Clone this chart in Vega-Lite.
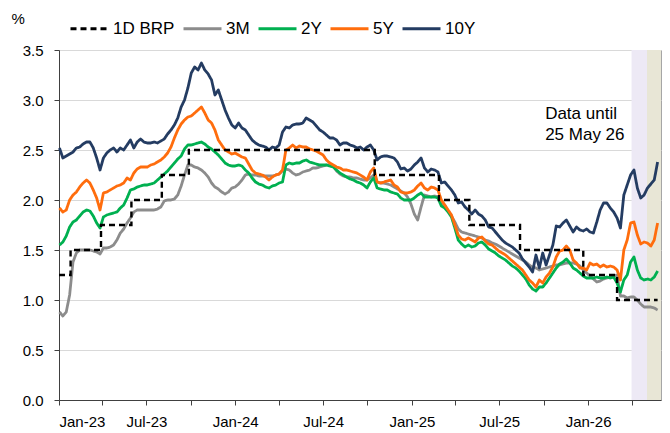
{
  "$schema": "https://vega.github.io/schema/vega-lite/v6.json",
  "width": 602,
  "height": 350,
  "autosize": {"type": "none"},
  "padding": {"left": 59, "top": 50, "right": 9, "bottom": 33},
  "background": "white",
  "config": {
    "font": "Liberation Sans",
    "view": {"stroke": "#A6A6A6", "strokeWidth": 1},
    "axis": {"labelFont": "Liberation Sans", "labelColor": "#000000", "labelFontSize": 15, "domainColor": "#404040", "tickColor": "#404040", "titleFont": "Liberation Sans"},
    "legend": {
      "orient": "none", "legendX": 10, "legendY": -42, "direction": "horizontal",
      "symbolType": "stroke", "symbolSize": 1444, "symbolStrokeWidth": 3,
      "labelFont": "Liberation Sans", "labelFontSize": 17, "labelColor": "#000000", "labelOffset": 3,
      "columnPadding": 2, "title": null
    }
  },
  "datasets": {
    "w": [
      {"d":"2023-01-02","3M":0.88,"2Y":1.55,"5Y":1.92,"10Y":2.52},
      {"d":"2023-01-09","3M":0.84,"2Y":1.58,"5Y":1.88,"10Y":2.42},
      {"d":"2023-01-16","3M":0.88,"2Y":1.64,"5Y":1.90,"10Y":2.44},
      {"d":"2023-01-23","3M":1.05,"2Y":1.73,"5Y":2.00,"10Y":2.46},
      {"d":"2023-01-30","3M":1.38,"2Y":1.78,"5Y":2.05,"10Y":2.48},
      {"d":"2023-02-06","3M":1.47,"2Y":1.80,"5Y":2.08,"10Y":2.52},
      {"d":"2023-02-13","3M":1.50,"2Y":1.84,"5Y":2.13,"10Y":2.53},
      {"d":"2023-02-20","3M":1.50,"2Y":1.88,"5Y":2.17,"10Y":2.56},
      {"d":"2023-02-27","3M":1.50,"2Y":1.90,"5Y":2.20,"10Y":2.58},
      {"d":"2023-03-06","3M":1.50,"2Y":1.89,"5Y":2.17,"10Y":2.58},
      {"d":"2023-03-13","3M":1.49,"2Y":1.84,"5Y":2.10,"10Y":2.52},
      {"d":"2023-03-20","3M":1.48,"2Y":1.77,"5Y":2.02,"10Y":2.42},
      {"d":"2023-03-27","3M":1.46,"2Y":1.72,"5Y":1.90,"10Y":2.30},
      {"d":"2023-04-03","3M":1.52,"2Y":1.83,"5Y":2.07,"10Y":2.42},
      {"d":"2023-04-10","3M":1.52,"2Y":1.85,"5Y":2.08,"10Y":2.47},
      {"d":"2023-04-17","3M":1.53,"2Y":1.86,"5Y":2.10,"10Y":2.50},
      {"d":"2023-04-24","3M":1.55,"2Y":1.87,"5Y":2.12,"10Y":2.52},
      {"d":"2023-05-01","3M":1.60,"2Y":1.88,"5Y":2.14,"10Y":2.48},
      {"d":"2023-05-08","3M":1.67,"2Y":1.92,"5Y":2.15,"10Y":2.52},
      {"d":"2023-05-15","3M":1.71,"2Y":1.95,"5Y":2.17,"10Y":2.50},
      {"d":"2023-05-22","3M":1.77,"2Y":2.02,"5Y":2.22,"10Y":2.55},
      {"d":"2023-05-29","3M":1.82,"2Y":2.10,"5Y":2.20,"10Y":2.60},
      {"d":"2023-06-05","3M":1.88,"2Y":2.11,"5Y":2.27,"10Y":2.52},
      {"d":"2023-06-12","3M":1.90,"2Y":2.13,"5Y":2.31,"10Y":2.58},
      {"d":"2023-06-19","3M":1.90,"2Y":2.14,"5Y":2.33,"10Y":2.61},
      {"d":"2023-06-26","3M":1.90,"2Y":2.15,"5Y":2.33,"10Y":2.58},
      {"d":"2023-07-03","3M":1.90,"2Y":2.15,"5Y":2.33,"10Y":2.57},
      {"d":"2023-07-10","3M":1.90,"2Y":2.16,"5Y":2.35,"10Y":2.57},
      {"d":"2023-07-17","3M":1.90,"2Y":2.17,"5Y":2.36,"10Y":2.58},
      {"d":"2023-07-24","3M":1.91,"2Y":2.20,"5Y":2.38,"10Y":2.57},
      {"d":"2023-07-31","3M":1.93,"2Y":2.23,"5Y":2.40,"10Y":2.59},
      {"d":"2023-08-07","3M":1.99,"2Y":2.26,"5Y":2.43,"10Y":2.61},
      {"d":"2023-08-14","3M":2.00,"2Y":2.29,"5Y":2.47,"10Y":2.66},
      {"d":"2023-08-21","3M":2.00,"2Y":2.33,"5Y":2.53,"10Y":2.70},
      {"d":"2023-08-28","3M":2.01,"2Y":2.37,"5Y":2.62,"10Y":2.75},
      {"d":"2023-09-04","3M":2.05,"2Y":2.41,"5Y":2.70,"10Y":2.82},
      {"d":"2023-09-11","3M":2.14,"2Y":2.44,"5Y":2.76,"10Y":2.93},
      {"d":"2023-09-18","3M":2.25,"2Y":2.51,"5Y":2.80,"10Y":3.00},
      {"d":"2023-09-25","3M":2.35,"2Y":2.55,"5Y":2.83,"10Y":3.12},
      {"d":"2023-10-02","3M":2.35,"2Y":2.55,"5Y":2.84,"10Y":3.27},
      {"d":"2023-10-09","3M":2.33,"2Y":2.56,"5Y":2.87,"10Y":3.33},
      {"d":"2023-10-16","3M":2.32,"2Y":2.57,"5Y":2.90,"10Y":3.30},
      {"d":"2023-10-23","3M":2.30,"2Y":2.58,"5Y":2.93,"10Y":3.37},
      {"d":"2023-10-30","3M":2.27,"2Y":2.56,"5Y":2.87,"10Y":3.30},
      {"d":"2023-11-06","3M":2.23,"2Y":2.53,"5Y":2.80,"10Y":3.26},
      {"d":"2023-11-13","3M":2.17,"2Y":2.51,"5Y":2.77,"10Y":3.20},
      {"d":"2023-11-20","3M":2.13,"2Y":2.48,"5Y":2.70,"10Y":3.05},
      {"d":"2023-11-27","3M":2.11,"2Y":2.45,"5Y":2.60,"10Y":3.10},
      {"d":"2023-12-04","3M":2.08,"2Y":2.41,"5Y":2.55,"10Y":3.00},
      {"d":"2023-12-11","3M":2.06,"2Y":2.37,"5Y":2.50,"10Y":2.90},
      {"d":"2023-12-18","3M":2.08,"2Y":2.35,"5Y":2.48,"10Y":2.82},
      {"d":"2023-12-25","3M":2.12,"2Y":2.34,"5Y":2.46,"10Y":2.75},
      {"d":"2024-01-01","3M":2.13,"2Y":2.34,"5Y":2.47,"10Y":2.72},
      {"d":"2024-01-08","3M":2.16,"2Y":2.35,"5Y":2.45,"10Y":2.77},
      {"d":"2024-01-15","3M":2.20,"2Y":2.34,"5Y":2.43,"10Y":2.72},
      {"d":"2024-01-22","3M":2.25,"2Y":2.30,"5Y":2.42,"10Y":2.70},
      {"d":"2024-01-29","3M":2.26,"2Y":2.27,"5Y":2.36,"10Y":2.65},
      {"d":"2024-02-05","3M":2.25,"2Y":2.22,"5Y":2.30,"10Y":2.60},
      {"d":"2024-02-12","3M":2.25,"2Y":2.18,"5Y":2.27,"10Y":2.57},
      {"d":"2024-02-19","3M":2.24,"2Y":2.16,"5Y":2.26,"10Y":2.55},
      {"d":"2024-02-26","3M":2.24,"2Y":2.15,"5Y":2.25,"10Y":2.54},
      {"d":"2024-03-04","3M":2.24,"2Y":2.13,"5Y":2.23,"10Y":2.53},
      {"d":"2024-03-11","3M":2.24,"2Y":2.12,"5Y":2.20,"10Y":2.50},
      {"d":"2024-03-18","3M":2.24,"2Y":2.14,"5Y":2.23,"10Y":2.53},
      {"d":"2024-03-25","3M":2.25,"2Y":2.15,"5Y":2.25,"10Y":2.52},
      {"d":"2024-04-01","3M":2.26,"2Y":2.17,"5Y":2.26,"10Y":2.55},
      {"d":"2024-04-08","3M":2.29,"2Y":2.18,"5Y":2.30,"10Y":2.68},
      {"d":"2024-04-15","3M":2.31,"2Y":2.35,"5Y":2.50,"10Y":2.73},
      {"d":"2024-04-22","3M":2.30,"2Y":2.37,"5Y":2.52,"10Y":2.72},
      {"d":"2024-04-29","3M":2.27,"2Y":2.36,"5Y":2.55,"10Y":2.75},
      {"d":"2024-05-06","3M":2.25,"2Y":2.37,"5Y":2.52,"10Y":2.76},
      {"d":"2024-05-13","3M":2.26,"2Y":2.37,"5Y":2.54,"10Y":2.76},
      {"d":"2024-05-20","3M":2.28,"2Y":2.39,"5Y":2.53,"10Y":2.77},
      {"d":"2024-05-27","3M":2.29,"2Y":2.40,"5Y":2.53,"10Y":2.82},
      {"d":"2024-06-03","3M":2.30,"2Y":2.38,"5Y":2.51,"10Y":2.80},
      {"d":"2024-06-10","3M":2.32,"2Y":2.37,"5Y":2.50,"10Y":2.78},
      {"d":"2024-06-17","3M":2.32,"2Y":2.36,"5Y":2.49,"10Y":2.74},
      {"d":"2024-06-24","3M":2.33,"2Y":2.35,"5Y":2.47,"10Y":2.70},
      {"d":"2024-07-01","3M":2.34,"2Y":2.35,"5Y":2.45,"10Y":2.68},
      {"d":"2024-07-08","3M":2.35,"2Y":2.35,"5Y":2.40,"10Y":2.65},
      {"d":"2024-07-15","3M":2.35,"2Y":2.34,"5Y":2.37,"10Y":2.62},
      {"d":"2024-07-22","3M":2.34,"2Y":2.33,"5Y":2.35,"10Y":2.62},
      {"d":"2024-07-29","3M":2.29,"2Y":2.30,"5Y":2.33,"10Y":2.60},
      {"d":"2024-08-05","3M":2.26,"2Y":2.27,"5Y":2.32,"10Y":2.55},
      {"d":"2024-08-12","3M":2.24,"2Y":2.25,"5Y":2.30,"10Y":2.57},
      {"d":"2024-08-19","3M":2.23,"2Y":2.23,"5Y":2.30,"10Y":2.57},
      {"d":"2024-08-26","3M":2.23,"2Y":2.21,"5Y":2.29,"10Y":2.55},
      {"d":"2024-09-02","3M":2.22,"2Y":2.20,"5Y":2.28,"10Y":2.54},
      {"d":"2024-09-09","3M":2.22,"2Y":2.18,"5Y":2.27,"10Y":2.52},
      {"d":"2024-09-16","3M":2.21,"2Y":2.17,"5Y":2.25,"10Y":2.53},
      {"d":"2024-09-23","3M":2.20,"2Y":2.15,"5Y":2.23,"10Y":2.50},
      {"d":"2024-09-30","3M":2.20,"2Y":2.12,"5Y":2.20,"10Y":2.53},
      {"d":"2024-10-07","3M":2.22,"2Y":2.18,"5Y":2.28,"10Y":2.55},
      {"d":"2024-10-14","3M":2.25,"2Y":2.22,"5Y":2.32,"10Y":2.50},
      {"d":"2024-10-21","3M":2.18,"2Y":2.12,"5Y":2.18,"10Y":2.40},
      {"d":"2024-10-28","3M":2.17,"2Y":2.11,"5Y":2.17,"10Y":2.43},
      {"d":"2024-11-04","3M":2.17,"2Y":2.10,"5Y":2.18,"10Y":2.44},
      {"d":"2024-11-11","3M":2.16,"2Y":2.10,"5Y":2.19,"10Y":2.44},
      {"d":"2024-11-18","3M":2.15,"2Y":2.08,"5Y":2.20,"10Y":2.43},
      {"d":"2024-11-25","3M":2.13,"2Y":2.07,"5Y":2.15,"10Y":2.42},
      {"d":"2024-12-02","3M":2.11,"2Y":2.06,"5Y":2.13,"10Y":2.38},
      {"d":"2024-12-09","3M":2.09,"2Y":2.02,"5Y":2.08,"10Y":2.31},
      {"d":"2024-12-16","3M":2.07,"2Y":2.00,"5Y":2.07,"10Y":2.32},
      {"d":"2024-12-23","3M":2.03,"2Y":2.00,"5Y":2.07,"10Y":2.29},
      {"d":"2024-12-30","3M":1.96,"2Y":2.00,"5Y":2.08,"10Y":2.31},
      {"d":"2025-01-06","3M":1.86,"2Y":2.02,"5Y":2.10,"10Y":2.35},
      {"d":"2025-01-13","3M":1.80,"2Y":2.05,"5Y":2.14,"10Y":2.38},
      {"d":"2025-01-20","3M":1.93,"2Y":2.07,"5Y":2.17,"10Y":2.42},
      {"d":"2025-01-27","3M":2.05,"2Y":2.03,"5Y":2.12,"10Y":2.32},
      {"d":"2025-02-03","3M":2.04,"2Y":2.03,"5Y":2.10,"10Y":2.28},
      {"d":"2025-02-10","3M":2.03,"2Y":2.03,"5Y":2.13,"10Y":2.31},
      {"d":"2025-02-17","3M":2.04,"2Y":2.03,"5Y":2.12,"10Y":2.30},
      {"d":"2025-02-24","3M":2.03,"2Y":2.02,"5Y":2.10,"10Y":2.28},
      {"d":"2025-03-03","3M":1.97,"2Y":1.94,"5Y":2.00,"10Y":2.17},
      {"d":"2025-03-10","3M":1.95,"2Y":1.92,"5Y":1.95,"10Y":2.18},
      {"d":"2025-03-17","3M":1.89,"2Y":1.88,"5Y":1.90,"10Y":2.14},
      {"d":"2025-03-24","3M":1.84,"2Y":1.83,"5Y":1.85,"10Y":2.10},
      {"d":"2025-03-31","3M":1.78,"2Y":1.72,"5Y":1.75,"10Y":2.05},
      {"d":"2025-04-07","3M":1.71,"2Y":1.60,"5Y":1.65,"10Y":1.97},
      {"d":"2025-04-14","3M":1.68,"2Y":1.56,"5Y":1.61,"10Y":1.98},
      {"d":"2025-04-21","3M":1.67,"2Y":1.53,"5Y":1.60,"10Y":1.93},
      {"d":"2025-04-28","3M":1.66,"2Y":1.55,"5Y":1.62,"10Y":1.90},
      {"d":"2025-05-05","3M":1.65,"2Y":1.53,"5Y":1.60,"10Y":1.86},
      {"d":"2025-05-12","3M":1.64,"2Y":1.54,"5Y":1.58,"10Y":1.90},
      {"d":"2025-05-19","3M":1.63,"2Y":1.57,"5Y":1.62,"10Y":1.86},
      {"d":"2025-05-26","3M":1.62,"2Y":1.58,"5Y":1.63,"10Y":1.84},
      {"d":"2025-06-02","3M":1.60,"2Y":1.55,"5Y":1.59,"10Y":1.80},
      {"d":"2025-06-09","3M":1.59,"2Y":1.51,"5Y":1.56,"10Y":1.73},
      {"d":"2025-06-16","3M":1.57,"2Y":1.49,"5Y":1.55,"10Y":1.72},
      {"d":"2025-06-23","3M":1.56,"2Y":1.47,"5Y":1.52,"10Y":1.68},
      {"d":"2025-06-30","3M":1.54,"2Y":1.44,"5Y":1.49,"10Y":1.64},
      {"d":"2025-07-07","3M":1.52,"2Y":1.42,"5Y":1.47,"10Y":1.60},
      {"d":"2025-07-14","3M":1.50,"2Y":1.40,"5Y":1.45,"10Y":1.57},
      {"d":"2025-07-21","3M":1.48,"2Y":1.37,"5Y":1.42,"10Y":1.55},
      {"d":"2025-07-28","3M":1.46,"2Y":1.34,"5Y":1.39,"10Y":1.53},
      {"d":"2025-08-04","3M":1.44,"2Y":1.32,"5Y":1.36,"10Y":1.50},
      {"d":"2025-08-11","3M":1.42,"2Y":1.29,"5Y":1.33,"10Y":1.47},
      {"d":"2025-08-18","3M":1.40,"2Y":1.25,"5Y":1.30,"10Y":1.41},
      {"d":"2025-08-25","3M":1.38,"2Y":1.21,"5Y":1.25,"10Y":1.37},
      {"d":"2025-09-01","3M":1.35,"2Y":1.15,"5Y":1.20,"10Y":1.33},
      {"d":"2025-09-08","3M":1.33,"2Y":1.11,"5Y":1.17,"10Y":1.28},
      {"d":"2025-09-15","3M":1.32,"2Y":1.09,"5Y":1.13,"10Y":1.45},
      {"d":"2025-09-22","3M":1.30,"2Y":1.13,"5Y":1.20,"10Y":1.32},
      {"d":"2025-09-29","3M":1.31,"2Y":1.13,"5Y":1.17,"10Y":1.47},
      {"d":"2025-10-06","3M":1.32,"2Y":1.17,"5Y":1.23,"10Y":1.35},
      {"d":"2025-10-13","3M":1.33,"2Y":1.22,"5Y":1.27,"10Y":1.45},
      {"d":"2025-10-20","3M":1.34,"2Y":1.27,"5Y":1.33,"10Y":1.55},
      {"d":"2025-10-27","3M":1.35,"2Y":1.32,"5Y":1.43,"10Y":1.74},
      {"d":"2025-11-03","3M":1.35,"2Y":1.36,"5Y":1.49,"10Y":1.73},
      {"d":"2025-11-10","3M":1.36,"2Y":1.38,"5Y":1.50,"10Y":1.77},
      {"d":"2025-11-17","3M":1.37,"2Y":1.41,"5Y":1.54,"10Y":1.80},
      {"d":"2025-11-24","3M":1.37,"2Y":1.37,"5Y":1.50,"10Y":1.74},
      {"d":"2025-12-01","3M":1.37,"2Y":1.32,"5Y":1.40,"10Y":1.68},
      {"d":"2025-12-08","3M":1.36,"2Y":1.30,"5Y":1.37,"10Y":1.73},
      {"d":"2025-12-15","3M":1.34,"2Y":1.27,"5Y":1.32,"10Y":1.70},
      {"d":"2025-12-22","3M":1.30,"2Y":1.24,"5Y":1.32,"10Y":1.69},
      {"d":"2025-12-29","3M":1.27,"2Y":1.22,"5Y":1.30,"10Y":1.71},
      {"d":"2026-01-05","3M":1.24,"2Y":1.22,"5Y":1.37,"10Y":1.68},
      {"d":"2026-01-12","3M":1.21,"2Y":1.22,"5Y":1.35,"10Y":1.67},
      {"d":"2026-01-19","3M":1.18,"2Y":1.23,"5Y":1.36,"10Y":1.78},
      {"d":"2026-01-26","3M":1.19,"2Y":1.22,"5Y":1.33,"10Y":1.90},
      {"d":"2026-02-02","3M":1.21,"2Y":1.22,"5Y":1.35,"10Y":1.97},
      {"d":"2026-02-09","3M":1.22,"2Y":1.23,"5Y":1.33,"10Y":1.97},
      {"d":"2026-02-16","3M":1.23,"2Y":1.22,"5Y":1.34,"10Y":1.92},
      {"d":"2026-02-23","3M":1.24,"2Y":1.23,"5Y":1.33,"10Y":1.88},
      {"d":"2026-03-02","3M":1.25,"2Y":1.17,"5Y":1.30,"10Y":1.82},
      {"d":"2026-03-09","3M":1.04,"2Y":1.08,"5Y":1.20,"10Y":1.72},
      {"d":"2026-03-16","3M":1.04,"2Y":1.20,"5Y":1.50,"10Y":2.05},
      {"d":"2026-03-23","3M":1.02,"2Y":1.25,"5Y":1.60,"10Y":2.15},
      {"d":"2026-03-30","3M":1.03,"2Y":1.38,"5Y":1.77,"10Y":2.25},
      {"d":"2026-04-06","3M":1.03,"2Y":1.43,"5Y":1.78,"10Y":2.30},
      {"d":"2026-04-13","3M":1.00,"2Y":1.30,"5Y":1.65,"10Y":2.12},
      {"d":"2026-04-20","3M":0.96,"2Y":1.22,"5Y":1.56,"10Y":2.02},
      {"d":"2026-04-27","3M":0.93,"2Y":1.20,"5Y":1.58,"10Y":2.05},
      {"d":"2026-05-04","3M":0.93,"2Y":1.21,"5Y":1.57,"10Y":2.12},
      {"d":"2026-05-11","3M":0.93,"2Y":1.20,"5Y":1.54,"10Y":2.16},
      {"d":"2026-05-18","3M":0.92,"2Y":1.23,"5Y":1.60,"10Y":2.20},
      {"d":"2026-05-25","3M":0.90,"2Y":1.29,"5Y":1.77,"10Y":2.38}
    ],
    "brp": [
      {"d":"2023-01-01","series":"1D BRP","v":1.25},
      {"d":"2023-01-25","series":"1D BRP","v":1.5},
      {"d":"2023-03-29","series":"1D BRP","v":1.75},
      {"d":"2023-05-31","series":"1D BRP","v":2.0},
      {"d":"2023-08-02","series":"1D BRP","v":2.25},
      {"d":"2023-09-27","series":"1D BRP","v":2.5},
      {"d":"2024-10-16","series":"1D BRP","v":2.25},
      {"d":"2025-02-26","series":"1D BRP","v":2.0},
      {"d":"2025-04-30","series":"1D BRP","v":1.75},
      {"d":"2025-08-13","series":"1D BRP","v":1.5},
      {"d":"2025-12-22","series":"1D BRP","v":1.25},
      {"d":"2026-03-02","series":"1D BRP","v":1.0},
      {"d":"2026-05-25","series":"1D BRP","v":1.0}
    ],
    "shade": [
      {"start":"2026-04-01","end":"2026-05-03","band":"a"},
      {"start":"2026-05-03","end":"2026-06-01","band":"b"}
    ],
    "note": [
      {"d":"2025-10-04","v":2.865}
    ]
  },
  "layer": [
    {
      "data": {"name": "shade"},
      "mark": {"type": "rect"},
      "encoding": {
        "x": {"field": "start", "type": "temporal", "scale": {"domain": [{"year":2023,"month":1,"date":1},{"year":2026,"month":6,"date":1}]}},
        "x2": {"field": "end"},
        "fill": {"field": "band", "type": "nominal", "scale": {"domain": ["a","b"], "range": ["#EDE9F5","#E8E6D6"]}, "legend": null}
      }
    },
    {
      "data": {"name": "w"},
      "transform": [{"fold": ["3M","2Y","5Y","10Y"], "as": ["series","v"]}],
      "mark": {"type": "line", "strokeWidth": 2.8, "strokeJoin": "round"},
      "encoding": {
        "x": {
          "field": "d", "type": "temporal",
          "scale": {"domain": [{"year":2023,"month":1,"date":1},{"year":2026,"month":6,"date":1}]},
          "axis": {
            "title": null, "grid": false, "tickSize": 5, "labelPadding": 9,
            "values": [
              {"year":2023,"month":1,"date":1},{"year":2023,"month":4,"date":1},{"year":2023,"month":7,"date":1},{"year":2023,"month":10,"date":1},
              {"year":2024,"month":1,"date":1},{"year":2024,"month":4,"date":1},{"year":2024,"month":7,"date":1},{"year":2024,"month":10,"date":1},
              {"year":2025,"month":1,"date":1},{"year":2025,"month":4,"date":1},{"year":2025,"month":7,"date":1},{"year":2025,"month":10,"date":1},
              {"year":2026,"month":1,"date":1},{"year":2026,"month":4,"date":1}
            ],
            "labelExpr": "month(datum.value) % 6 == 0 ? timeFormat(datum.value, '%b-%y') : ''",
            "labelOverlap": false
          }
        },
        "y": {
          "field": "v", "type": "quantitative",
          "scale": {"domain": [0, 3.5], "nice": false},
          "axis": {
            "values": [0,0.5,1,1.5,2,2.5,3,3.5], "format": ".1f",
            "grid": true, "gridColor": "#D9D9D9", "gridWidth": 1,
            "tickSize": 5, "labelPadding": 11,
            "title": "%", "titleAngle": 0, "titleAlign": "left", "titleBaseline": "middle",
            "titleX": -48, "titleY": -32, "titleFontSize": 15, "titleFontWeight": "normal", "titleColor": "#000000"
          }
        },
        "color": {
          "field": "series", "type": "nominal",
          "scale": {"domain": ["1D BRP","3M","2Y","5Y","10Y"], "range": ["#000000","#8C8C8C","#00B050","#FF6D0D","#243C62"]}
        },
        "strokeDash": {
          "field": "series", "type": "nominal",
          "scale": {"domain": ["1D BRP","3M","2Y","5Y","10Y"], "range": [[6,4],[1,0],[1,0],[1,0],[1,0]]}
        }
      }
    },
    {
      "data": {"name": "brp"},
      "mark": {"type": "line", "strokeWidth": 2.4, "interpolate": "step-after"},
      "encoding": {
        "x": {"field": "d", "type": "temporal", "scale": {"domain": [{"year":2023,"month":1,"date":1},{"year":2026,"month":6,"date":1}]}},
        "y": {"field": "v", "type": "quantitative"},
        "color": {"field": "series", "type": "nominal"},
        "strokeDash": {"field": "series", "type": "nominal"}
      }
    },
    {
      "data": {"name": "note"},
      "mark": {"type": "text", "text": ["Data until", "25 May 26"], "align": "left", "baseline": "middle", "fontSize": 17, "lineHeight": 21, "font": "Liberation Sans", "color": "#000000"},
      "encoding": {
        "x": {"field": "d", "type": "temporal", "scale": {"domain": [{"year":2023,"month":1,"date":1},{"year":2026,"month":6,"date":1}]}},
        "y": {"field": "v", "type": "quantitative"}
      }
    }
  ]
}
